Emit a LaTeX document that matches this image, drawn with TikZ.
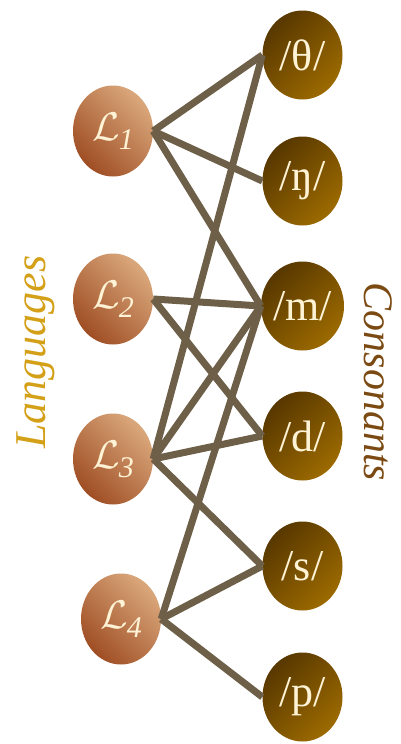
\documentclass[tikz,border=0pt]{standalone}
\usepackage{fontspec}
\setmainfont{Liberation Serif}
\usetikzlibrary{shapes.geometric}
\definecolor{langdark}{RGB}{160,78,36}
\definecolor{langlight}{RGB}{218,168,124}
\definecolor{consdark}{RGB}{88,56,0}
\definecolor{conslight}{RGB}{156,106,0}
\definecolor{edgecol}{RGB}{110,96,72}
\definecolor{cream}{RGB}{255,243,214}
\definecolor{langlabel}{RGB}{212,160,23}
\definecolor{conslabel}{RGB}{123,74,18}
\tikzset{
  lang/.style={ellipse, inner sep=0pt, minimum width=80pt, minimum height=91pt,
    top color=langlight, bottom color=langdark, shading angle=-45,
    text=cream},
  cons/.style={ellipse, inner sep=0pt, minimum width=80pt, minimum height=89pt,
    top color=consdark, bottom color=conslight, shading angle=45,
    text=cream, font=\fontsize{44}{50}\selectfont},
  link/.style={draw=edgecol, line width=7pt, line join=miter},
}
\newcommand{\lng}[1]{\raisebox{0pt}{\scalebox{4}{$\mathcal{L}$}}\kern-1pt\raisebox{-9pt}{\fontsize{30}{34}\selectfont\itshape #1}}
\begin{document}
\begin{tikzpicture}[x=1pt,y=-1pt]
\useasboundingbox (0,0) rectangle (401,744);
\node[lang] (L1) at (113,131) {\lng{1}};
\node[lang] (L2) at (113,299) {\lng{2}};
\node[lang] (L3) at (113,459) {\lng{3}};
\node[lang] (L4) at (121,619) {\lng{4}};
\node[cons] (th) at (302.5,55) {/θ/};
\node[cons] (ng) at (302.5,181) {/ŋ/};
\node[cons] (m) at (302.5,306) {/m/};
\node[cons] (d) at (302.5,436) {/d/};
\node[cons] (s) at (302.5,566) {/s/};
\node[cons] (p) at (302.5,697) {/p/};
\draw[link] (L1.east) -- (th.west);
\draw[link] (L1.east) -- (ng.west);
\draw[link] (L1.east) -- (m.west);
\draw[link] (L2.east) -- (m.west);
\draw[link] (L2.east) -- (d.west);
\draw[link] (L3.east) -- (th.west);
\draw[link] (L3.east) -- (m.west);
\draw[link] (L3.east) -- (d.west);
\draw[link] (L3.east) -- (s.west);
\draw[link] (L4.east) -- (m.west);
\draw[link] (L4.east) -- (s.west);
\draw[link] (L4.east) -- (p.west);
\node[rotate=90, text=langlabel, font=\fontsize{44}{50}\selectfont\itshape] (langs) at (36,352) {Languages};
\node[rotate=-90, text=conslabel, font=\fontsize{42}{50}\selectfont\itshape] (conss) at (378,382) {Consonants};
\end{tikzpicture}
\end{document}
